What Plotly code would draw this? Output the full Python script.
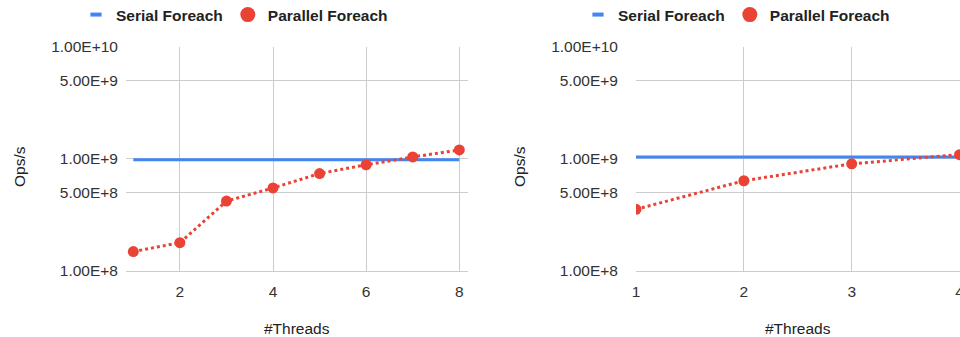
import plotly.graph_objects as go

# Benchmark results: throughput (ops/s) by thread count
threads_a = [1, 2, 3, 4, 5, 6, 7, 8]
serial_a = [9.8e8, 9.8e8, 9.8e8, 9.8e8, 9.8e8, 9.8e8, 9.8e8, 9.8e8]
parallel_a = [1.49e8, 1.79e8, 4.2e8, 5.5e8, 7.4e8, 8.86e8, 1.04e9, 1.2e9]

threads_b = [1, 2, 3, 4]
serial_b = [1.04e9, 1.04e9, 1.04e9, 1.04e9]
parallel_b = [3.55e8, 6.38e8, 9.04e8, 1.09e9]

y_tickvals = [1e8, 5e8, 1e9, 5e9, 1e10]
y_ticktext = ["1.00E+8", "5.00E+8", "1.00E+9", "5.00E+9", "1.00E+10"]
x_ticks_a = [2, 4, 6, 8]
x_ticks_b = [1, 2, 3, 4]

BLUE = "#4285F4"
RED = "#EA4335"
GRID = "#CCCCCC"
FONT = "Liberation Sans, Arial, sans-serif"
FS = 15.5

W, H = 960, 337

fig = go.Figure()


def add_panel(x, serial, parallel, xa, ya, legend):
    fig.add_trace(go.Scatter(
        x=x, y=serial, mode="lines", xaxis=xa, yaxis=ya,
        line=dict(color=BLUE, width=3), showlegend=False, hoverinfo="skip"))
    fig.add_trace(go.Scatter(
        x=x, y=parallel, mode="lines+markers", xaxis=xa, yaxis=ya,
        line=dict(color=RED, width=3, dash="3px,3px"),
        marker=dict(color=RED, size=11), showlegend=False, hoverinfo="skip"))
    # legend entries
    fig.add_trace(go.Scatter(
        x=[None], y=[None], mode="markers", xaxis=xa, yaxis=ya,
        name="Serial Foreach", legend=legend,
        marker=dict(symbol="line-ew", size=8, color=BLUE,
                    line=dict(color=BLUE, width=4))))
    fig.add_trace(go.Scatter(
        x=[None], y=[None], mode="markers", xaxis=xa, yaxis=ya,
        name="Parallel Foreach", legend=legend,
        marker=dict(color=RED, size=15)))


add_panel(threads_a, serial_a, parallel_a, "x", "y", "legend")
add_panel(threads_b, serial_b, parallel_b, "x2", "y2", "legend2")

y_top = (H - 46.7) / H
y_bot = (H - 271) / H

axis_font = dict(family=FONT, size=FS, color="#333333")

common_y = dict(
    type="log", range=[8, 10], tickvals=y_tickvals, ticktext=y_ticktext,
    showgrid=True, gridcolor=GRID, gridwidth=1, zeroline=False,
    showline=False, ticks="", tickfont=axis_font, domain=[y_bot, y_top],
    fixedrange=True)
common_x = dict(
    showgrid=True, gridcolor=GRID, gridwidth=1, zeroline=False,
    showline=True, linecolor=GRID, linewidth=1, ticks="",
    tickfont=axis_font, fixedrange=True, ticklabelstandoff=6,
    ticklabeloverflow="allow")

legend_font = dict(family=FONT, size=FS, color="#222222", weight="bold")
legend_y = 1 + 2 / H

fig.update_layout(
    width=W, height=H,
    margin=dict(l=0, r=0, t=0, b=0, autoexpand=False),
    paper_bgcolor="white", plot_bgcolor="white",
    font=dict(family=FONT, size=FS, color="#222222"),
    xaxis=dict(common_x, domain=[126 / W, 467.7 / W], range=[0.843, 8.18],
               tickvals=x_ticks_a, anchor="y"),
    yaxis=dict(common_y, anchor="x", ticklabelstandoff=7),
    xaxis2=dict(common_x, domain=[636 / W, 1.0], range=[1, 4.004],
                tickvals=x_ticks_b, anchor="y2"),
    yaxis2=dict(common_y, anchor="x2", ticklabelstandoff=17),
    legend=dict(orientation="h", x=76 / W, y=legend_y, xanchor="left",
                yanchor="top", font=legend_font,
                bgcolor="rgba(0,0,0,0)", itemclick=False),
    legend2=dict(orientation="h", x=578 / W, y=legend_y, xanchor="left",
                 yanchor="top", font=legend_font,
                 bgcolor="rgba(0,0,0,0)", itemclick=False),
)

title_font = dict(family=FONT, size=FS, color="#222222")
for xc, label in [((126 + 467.7) / 2 / W, "#Threads"), ((636 + 960) / 2 / W, "#Threads")]:
    fig.add_annotation(x=xc, y=(H - 328) / H, xref="paper", yref="paper",
                       text=label, showarrow=False, font=title_font,
                       xanchor="center", yanchor="middle")
for xc in [19 / W, 519 / W]:
    fig.add_annotation(x=xc, y=(H - 167) / H, xref="paper", yref="paper",
                       text="Ops/s", showarrow=False, font=title_font,
                       textangle=-90, xanchor="center", yanchor="middle")

fig.write_html("out.html")
